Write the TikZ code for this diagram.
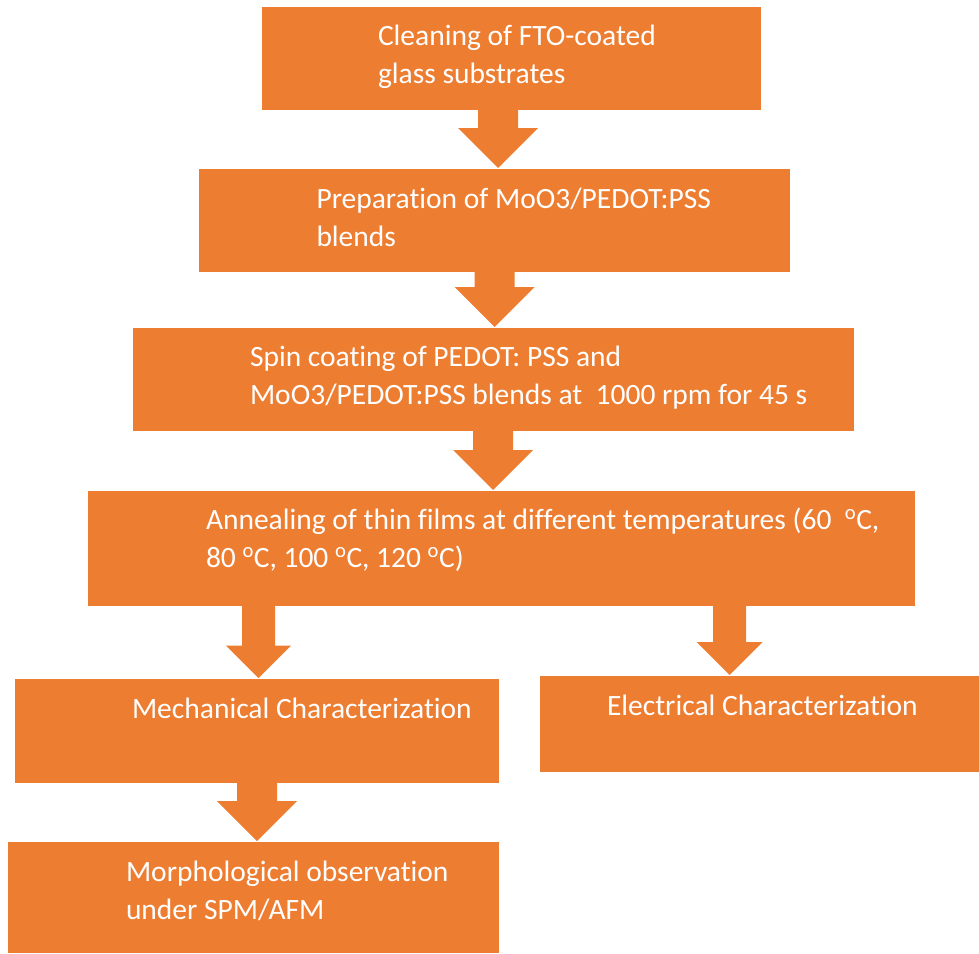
\documentclass[tikz,border=0pt]{standalone}
\usepackage{fontspec}
\setmainfont{Carlito}[Ligatures=CommonOff]
\usetikzlibrary{calc}
\definecolor{boxorange}{HTML}{ED7D31}
\tikzset{
  boxfill/.style={fill=boxorange, draw=none},
  stepbox/.style={boxfill, rectangle, inner sep=0pt, outer sep=0pt, anchor=north west},
  txt/.style={text=white, inner sep=0pt, outer sep=0pt, anchor=base west, align=left,
    font=\fontsize{29.5}{38}\selectfont},
}
% #1 from, #2 to, #3 x centre, #4 half shaft, #5 half head
\newcommand\blockarrow[5]{%
  \fill[boxfill] let \p1=(#1.south), \p2=(#2.north) in
   ({#3pt-#4pt},\y1) -- ({#3pt+#4pt},\y1) -- ({#3pt+#4pt},{\y2+1pt+#5pt})
   -- ({#3pt+#5pt},{\y2+1pt+#5pt}) -- ({#3pt},{\y2+1pt})
   -- ({#3pt-#5pt},{\y2+1pt+#5pt}) -- ({#3pt-#4pt},{\y2+1pt+#5pt}) -- cycle;}
\begin{document}
\begin{tikzpicture}[x=1pt,y=-1pt]
\useasboundingbox (0,0) rectangle (979,953);
% boxes
\node[stepbox, minimum width=499pt, minimum height=103pt] (b1) at (262,7) {};
\node[stepbox, minimum width=591pt, minimum height=103pt] (b2) at (199,169) {};
\node[stepbox, minimum width=721pt, minimum height=103pt] (b3) at (133,328) {};
\node[stepbox, minimum width=827pt, minimum height=115pt] (b4) at (88,491) {};
\node[stepbox, minimum width=484pt, minimum height=104pt] (b5) at (15,679) {};
\node[stepbox, minimum width=491pt, minimum height=111pt] (b6) at (8,842) {};
\node[stepbox, minimum width=439pt, minimum height=96pt] (b7) at (540,676) {};
% arrows
\blockarrow{b1}{b2}{498}{20}{40}
\blockarrow{b2}{b3}{494.5}{20}{40}
\blockarrow{b3}{b4}{493}{20}{40}
\blockarrow{b4}{b5}{258.5}{16.5}{32.5}
\blockarrow{b5}{b6}{257}{20}{40}
\blockarrow{b4}{b7}{729.5}{16.5}{33}
% texts (anchor = baseline of last line)
\node[txt] (t1) at (378,83) {Cleaning of FTO-coated\\glass substrates};
\node[txt] (t2) at (316.5,246) {Preparation of MoO3/PEDOT:PSS\\blends};
\node[txt] (t3) at (250,404) {Spin coating of PEDOT: PSS and\\MoO3/PEDOT:PSS blends at\ \ 1000 rpm for 45 s};
\node[txt] (t4) at (206,567) {Annealing of thin films at different temperatures (60\ \ \textsuperscript{o}C,\\80 \textsuperscript{o}C, 100 \textsuperscript{o}C, 120 \textsuperscript{o}C)};
\node[txt] (t5) at (132,718) {Mechanical Characterization};
\node[txt] (t6) at (126,919) {Morphological observation\\under SPM/AFM};
\node[txt] (t7) at (607,715) {Electrical Characterization};
\end{tikzpicture}
\end{document}
